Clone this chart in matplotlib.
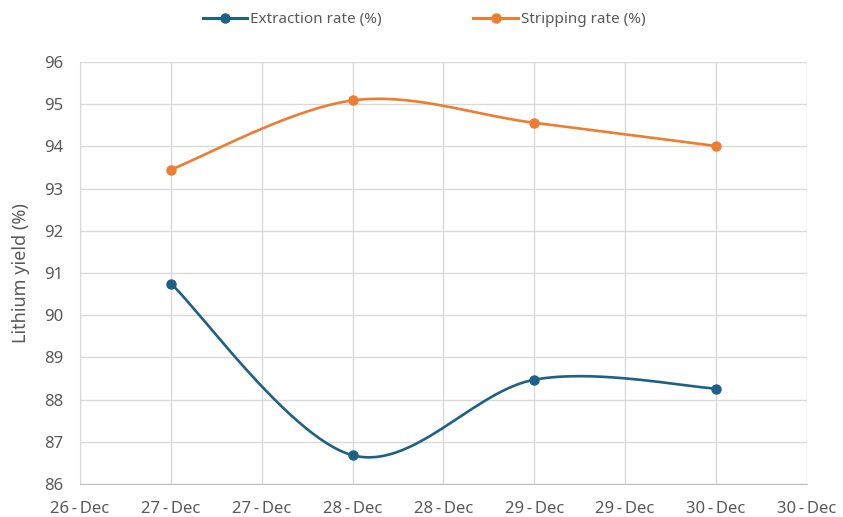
import numpy as np
import pandas as pd
import matplotlib
matplotlib.use("Agg")
import matplotlib.pyplot as plt
import matplotlib.dates as mdates
from matplotlib.lines import Line2D

plt.rcParams['font.family'] = ['Noto Sans', 'DejaVu Sans']

dates = ["2023-12-27", "2023-12-28", "2023-12-29", "2023-12-30"]
extraction = [90.75, 86.68, 88.47, 88.26]
stripping = [93.45, 95.09, 94.56, 94.01]

BLUE = "#1d6186"
ORANGE = "#ed7d31"
TEXT = "#595959"
GRID = "#d9d9d9"


def smooth(x, y, n=60):
    """Bezier smoothing through every point (tension 1/6, spreadsheet style)."""
    x = np.asarray(x, float)
    y = np.asarray(y, float)
    px = np.concatenate([[x[0]], x, [x[-1]]])
    py = np.concatenate([[y[0]], y, [y[-1]]])
    xs, ys = [], []
    t = np.linspace(0, 1, n)
    for i in range(1, len(px) - 2):
        p0 = np.array([px[i - 1], py[i - 1]])
        p1 = np.array([px[i], py[i]])
        p2 = np.array([px[i + 1], py[i + 1]])
        p3 = np.array([px[i + 2], py[i + 2]])
        c1 = p1 + (p2 - p0) / 6.0
        c2 = p2 - (p3 - p1) / 6.0
        b = ((1 - t) ** 3)[:, None] * p1 + (3 * (1 - t) ** 2 * t)[:, None] * c1 \
            + (3 * (1 - t) * t ** 2)[:, None] * c2 + (t ** 3)[:, None] * p2
        xs.append(b[:, 0])
        ys.append(b[:, 1])
    return np.concatenate(xs), np.concatenate(ys)


x = mdates.date2num(pd.to_datetime(dates))

fig = plt.figure(figsize=(8.43, 5.17), dpi=100)
ax = fig.add_axes([0.095, 0.064, 0.862, 0.816])

for vals, col in [(extraction, BLUE), (stripping, ORANGE)]:
    sx, sy = smooth(x, vals)
    ax.plot(sx, sy, color=col, lw=1.9, solid_capstyle='round', zorder=3)
    ax.plot(x, vals, 'o', color=col, ms=6.5, zorder=4)

ax.set_xlim(x[0] - 0.5, x[-1] + 0.5)
ax.set_ylim(86, 96)
ax.set_yticks(np.arange(86, 97, 1))
ax.xaxis.set_major_locator(mdates.HourLocator(byhour=[0, 12]))
ax.xaxis.set_major_formatter(mdates.DateFormatter('%d\u2009-\u2009%b'))

ax.grid(True, color=GRID, lw=1.0)
ax.set_axisbelow(True)
for s in ['top', 'right']:
    ax.spines[s].set_visible(False)
ax.spines['bottom'].set_color('#bfbfbf')
ax.spines['left'].set_color(GRID)
ax.tick_params(length=0, colors=TEXT, labelsize=12)
ax.tick_params(axis='x', pad=12)
ax.tick_params(axis='y', pad=12)
ax.set_ylabel("Lithium yield (%)", color=TEXT, fontsize=13)
ax.yaxis.set_label_coords(-0.069, 0.5)

handles = [
    Line2D([], [], color=BLUE, lw=2.2, marker='o', ms=6.5),
    Line2D([], [], color=ORANGE, lw=2.2, marker='o', ms=6.5),
]
fig.legend(handles, ["Extraction rate (%)", "Stripping rate (%)"],
           loc='center', bbox_to_anchor=(0.503, 0.962), ncol=2, frameon=False,
           handlelength=2.9, columnspacing=6.0, handletextpad=0.2,
           prop={'size': 11}, labelcolor=TEXT)

fig.savefig("out.png", dpi=100)
